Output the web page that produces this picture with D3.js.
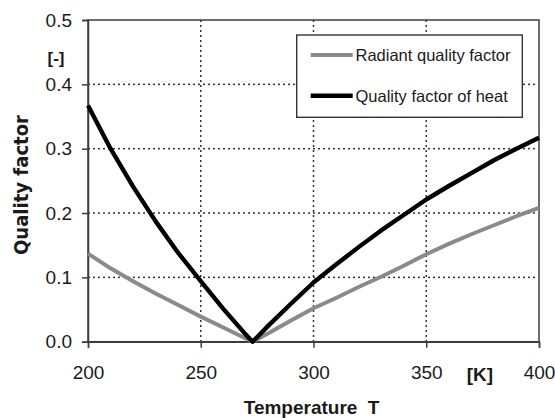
<!DOCTYPE html>
<html>
<head>
<meta charset="utf-8">
<script src="https://cdn.jsdelivr.net/npm/d3@7/dist/d3.min.js"></script>
<style>
  html, body { margin: 0; padding: 0; background: #fff; }
  svg { display: block; }
  text { font-family: "Liberation Sans", Arial, Helvetica, sans-serif; fill: #1a1a1a; }
</style>
</head>
<body>
<svg id="chart" width="555" height="418"></svg>
<script>
// Temperature samples [K]
const temperatures = [200, 210, 220, 230, 240, 250, 260, 270, 273, 280, 290, 300,
                      310, 320, 330, 340, 350, 360, 370, 380, 390, 400];
// Quality factor of heat [-]
const heatQuality = [0.367, 0.300, 0.241, 0.187, 0.138, 0.094, 0.051, 0.011, 0.000, 0.025, 0.059, 0.092,
                     0.120, 0.147, 0.173, 0.197, 0.221, 0.242, 0.262, 0.282, 0.300, 0.317];
// Radiant quality factor [-]
const radiantQuality = [0.137, 0.114, 0.094, 0.075, 0.057, 0.039, 0.022, 0.005, 0.000, 0.013, 0.033, 0.052,
                        0.068, 0.085, 0.101, 0.118, 0.136, 0.152, 0.167, 0.181, 0.195, 0.208];

const seriesNames = ["Radiant quality factor", "Quality factor of heat"];
const seriesColors = ["#8a8a8a", "#000000"];
const xTicks = [200, 250, 300, 350, 400];
const yTicks = [0, 0.1, 0.2, 0.3, 0.4, 0.5];
const xGrid = [250, 300, 350];
const yGrid = [0.1, 0.2, 0.3, 0.4];

const svg = d3.select("#chart");
const plot = { left: 88, right: 539, top: 20, bottom: 341.7 };

const x = d3.scaleLinear().domain([200, 400]).range([plot.left, plot.right]);
const y = d3.scaleLinear().domain([0, 0.5]).range([plot.bottom, plot.top]);

const axisColor = "#3c3c3c";
const gridColor = "#333";
const dotStep = 5, dotLen = 2, dotW = 1.5;

// dotted grid, built from small dots along each grid line
const grid = svg.append("g").attr("class", "grid").attr("fill", gridColor);
xGrid.forEach(v => {
  const gx = x(v);
  grid.selectAll(null)
    .data(d3.range(plot.top, plot.bottom - 1, dotStep))
    .enter().append("rect")
    .attr("x", gx - dotW / 2).attr("y", d => d)
    .attr("width", dotW).attr("height", dotLen);
});
yGrid.forEach(v => {
  const gy = y(v);
  grid.selectAll(null)
    .data(d3.range(plot.left, plot.right - 1, dotStep))
    .enter().append("rect")
    .attr("x", d => d).attr("y", gy - dotW / 2)
    .attr("width", dotLen).attr("height", dotW);
});

// plot frame
svg.append("rect")
  .attr("x", plot.left).attr("y", plot.top)
  .attr("width", plot.right - plot.left).attr("height", plot.bottom - plot.top)
  .attr("fill", "none").attr("stroke", axisColor).attr("stroke-width", 1.5);

// axes
const yAxis = svg.append("g")
  .attr("transform", `translate(${plot.left},0)`)
  .call(d3.axisLeft(y).tickValues(yTicks).tickFormat(d3.format(".1f")).tickSize(6).tickPadding(10));
const xAxis = svg.append("g")
  .attr("transform", `translate(0,${plot.bottom})`)
  .call(d3.axisBottom(x).tickValues(xTicks).tickFormat(d3.format("d")).tickSize(6).tickPadding(18));
[xAxis, yAxis].forEach(a => {
  a.select(".domain").attr("stroke", axisColor).attr("stroke-width", 1.5);
  a.selectAll(".tick line").attr("stroke", axisColor).attr("stroke-width", 1.5);
  a.selectAll(".tick text").attr("fill", "#1a1a1a")
    .style("font-family", '"Liberation Sans", Arial, sans-serif').style("font-size", "19px");
});

// curves
const line = d3.line().x((d, i) => x(temperatures[i])).y(d => y(d));
[radiantQuality, heatQuality].forEach((vals, k) => {
  svg.append("path")
    .datum(vals)
    .attr("d", line)
    .attr("fill", "none")
    .attr("stroke", seriesColors[k])
    .attr("stroke-width", k === 1 ? 4.4 : 4)
    .attr("stroke-linejoin", "round");
});

// legend
const lg = svg.append("g");
lg.append("rect")
  .attr("x", 296.7).attr("y", 35).attr("width", 225.6).attr("height", 82.3)
  .attr("fill", "#fff").attr("stroke", "#333").attr("stroke-width", 1.4);
seriesNames.forEach((name, i) => {
  const ly = 55 + i * 40.7;
  lg.append("line")
    .attr("x1", 310.7).attr("x2", 352.7).attr("y1", ly).attr("y2", ly)
    .attr("stroke", seriesColors[i]).attr("stroke-width", i === 1 ? 4.4 : 4);
  lg.append("text")
    .attr("x", 355.5).attr("y", ly + 6.2)
    .style("font-size", "16.5px")
    .text(name);
});

// unit labels
svg.append("text").attr("x", 56).attr("y", 64)
  .attr("text-anchor", "middle").style("font-size", "17px").style("font-weight", "bold")
  .text("[-]");
svg.append("text").attr("x", 480).attr("y", 380.5)
  .attr("text-anchor", "middle").style("font-size", "19px").style("font-weight", "bold")
  .text("[K]");

// axis titles
svg.append("text")
  .attr("x", 311.5).attr("y", 414)
  .attr("text-anchor", "middle")
  .style("font-size", "19px").style("font-weight", "bold").style("word-spacing", "5px")
  .text("Temperature T");
svg.append("text")
  .attr("transform", "translate(28,185) rotate(-90)")
  .attr("text-anchor", "middle")
  .attr("textLength", 140).attr("lengthAdjust", "spacingAndGlyphs")
  .style("font-family", '"DejaVu Sans", sans-serif')
  .style("font-size", "20px").style("font-weight", "bold")
  .text("Quality factor");
</script>
</body>
</html>
